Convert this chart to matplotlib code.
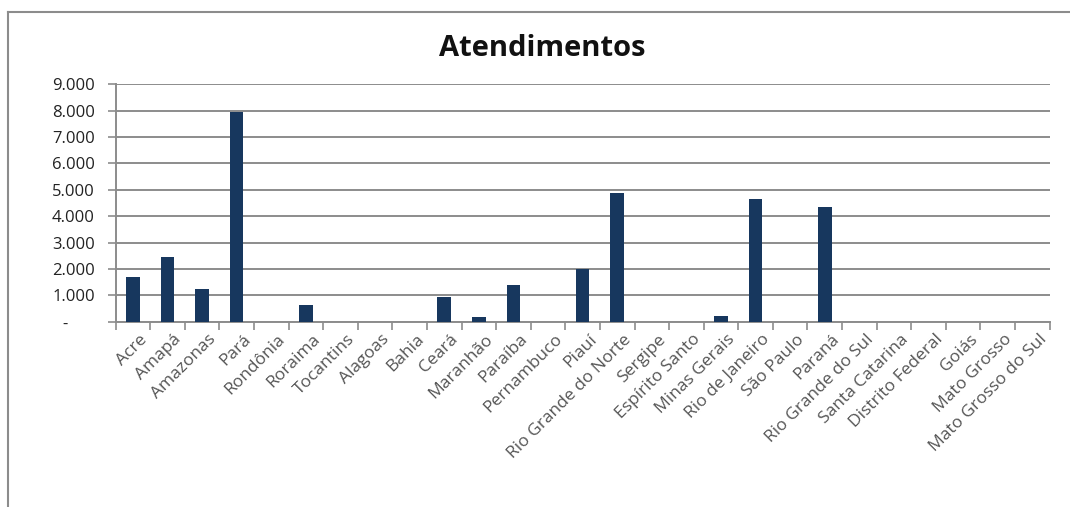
import matplotlib
matplotlib.use("Agg")
import matplotlib.pyplot as plt
from matplotlib.ticker import FuncFormatter
from matplotlib.lines import Line2D
from matplotlib.transforms import ScaledTranslation
import numpy as np

plt.rcParams['font.family'] = ['Open Sans', 'DejaVu Sans']

estados = ["Acre", "Amapá", "Amazonas", "Pará", "Rondônia", "Roraima", "Tocantins",
           "Alagoas", "Bahia", "Ceará", "Maranhão", "Paraíba", "Pernambuco", "Piauí",
           "Rio Grande do Norte", "Sergipe", "Espírito Santo", "Minas Gerais",
           "Rio de Janeiro", "São Paulo", "Paraná", "Rio Grande do Sul",
           "Santa Catarina", "Distrito Federal", "Goiás", "Mato Grosso",
           "Mato Grosso do Sul"]
atendimentos = [1700, 2450, 1250, 7950, 0, 620, 0,
                0, 0, 950, 170, 1400, 0, 2000,
                4880, 0, 0, 230,
                4650, 0, 4350, 0,
                0, 0, 0, 0,
                0]
y_ticks = [0, 1000, 2000, 3000, 4000, 5000, 6000, 7000, 8000, 9000]

fig = plt.figure(figsize=(10.7, 5.07), dpi=100)
ax = fig.add_axes([0.108, 0.3655, 0.873, 0.4685])

x = np.arange(len(estados))
ax.bar(x, atendimentos, width=0.39, color="#17375E", zorder=3)

ax.set_xlim(-0.5, len(estados) - 0.5)
ax.set_ylim(0, 9000)
ax.set_yticks(y_ticks)

def fmt(v, pos):
    if v == 0:
        return "-      "
    return f"{int(v):,}".replace(",", ".")

ax.yaxis.set_major_formatter(FuncFormatter(fmt))
ax.grid(axis='y', color="#8c8c8c", linewidth=1.4, zorder=0)
ax.set_axisbelow(True)

for s in ["top", "right"]:
    ax.spines[s].set_visible(False)
ax.spines["left"].set_color("#8c8c8c")
ax.spines["left"].set_linewidth(1.4)
ax.spines["bottom"].set_color("#8c8c8c")
ax.spines["bottom"].set_linewidth(1.4)

ax.set_xticks(x)
ax.set_xticklabels(estados, rotation=45, ha='right', rotation_mode='anchor',
                   fontsize=12.5, color="#555555")
ax.tick_params(axis='x', which='major', length=0, pad=7)
ax.set_xticks(np.arange(-0.5, len(estados) + 0.5, 1), minor=True)
ax.tick_params(axis='x', which='minor', length=6, width=1.2, color="#8c8c8c", direction='out')
ax.tick_params(axis='y', length=6, width=1.2, color="#8c8c8c", labelsize=12,
               labelcolor="#222222", pad=9)

offset = ScaledTranslation(6 / 100, 0, fig.dpi_scale_trans)
for lbl in ax.get_xticklabels():
    lbl.set_transform(lbl.get_transform() + offset)

fig.text(0.507, 0.905, "Atendimentos", ha='center', va='center',
         fontsize=21, fontweight='bold', color="#111111")

fig.add_artist(Line2D([0.0075, 0.0075], [0.0, 0.976], transform=fig.transFigure,
                      color="#8c8c8c", linewidth=1.5))
fig.add_artist(Line2D([0.0075, 1.0], [0.976, 0.976], transform=fig.transFigure,
                      color="#8c8c8c", linewidth=1.5))

fig.savefig("out.png", dpi=100)
